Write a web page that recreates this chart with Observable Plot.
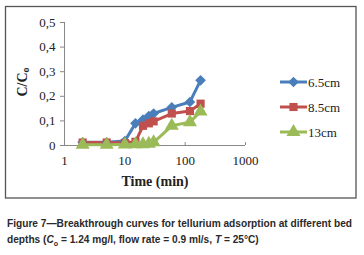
<!DOCTYPE html>
<html><head><meta charset="utf-8">
<script src="https://cdn.jsdelivr.net/npm/d3@7"></script>
<script src="https://cdn.jsdelivr.net/npm/@observablehq/plot@0.6"></script>
<style>
html,body{margin:0;padding:0;background:#fff;}
#cap{position:absolute;left:7px;top:216px;font-family:"Liberation Sans Narrow","Liberation Sans",Arial,sans-serif;font-weight:bold;font-size:11.5px;line-height:15.5px;color:#2a2a2a;white-space:nowrap;transform-origin:0 0;}
</style></head><body>
<div id="chart"></div>
<div id="cap"><div id="l1">Figure 7—Breakthrough curves for tellurium adsorption at different bed</div><div id="l2">depths (<i>C</i><sub style="font-size:8px">o</sub> = 1.24 mg/l, flow rate = 0.9 ml/s, <i>T</i> = 25°C)</div></div>
<script>
const times = [2, 5, 10, 15, 20, 25, 30, 60, 120, 180];
const s65 = [0.013, 0.013, 0.018, 0.09, 0.105, 0.12, 0.13, 0.155, 0.177, 0.265];
const s85 = [0.012, 0.012, 0.01, 0.015, 0.08, 0.09, 0.098, 0.13, 0.14, 0.17];
const s13 = [0.003, 0.003, 0.004, 0.005, 0.005, 0.007, 0.013, 0.08, 0.095, 0.138];
const seriesNames = ["6.5cm", "8.5cm", "13cm"];
const seriesColors = ["#4A7EBB", "#C0504D", "#9BBB59"];
const seriesSymbols = ["diamond2", "square", "triangle"];
const seriesR = [4.8, 4.6, 5.2];
const xTicks = [1, 10, 100, 1000];
const yTicks = [0, 0.1, 0.2, 0.3, 0.4, 0.5];

const all = [s65, s85, s13];
const data = [];
all.forEach((s, i) => s.forEach((v, j) => data.push({t: times[j], v, name: seriesNames[i]})));

const serif = "'Liberation Serif', 'DejaVu Serif', serif";
const marks = [
  Plot.ruleX([1], {y1: 0, y2: 0.5, stroke: "#888", strokeWidth: 1}),
  Plot.ruleY([0], {x1: 1, x2: 1000, stroke: "#888", strokeWidth: 1}),
  Plot.axisY({ticks: yTicks, tickSize: 4, tickPadding: 5, stroke: "#888", fontSize: 13, fontFamily: serif, fill: "#222",
    tickFormat: d => d === 0 ? "0" : d.toFixed(1).replace(".", ","), label: null}),
  Plot.axisX({ticks: xTicks, tickSize: 0, tickPadding: 10, fontSize: 13, fontFamily: serif, fill: "#222", tickFormat: d => String(d), label: null}),
  Plot.ruleX(xTicks, {y1: 0, y2: 0.012, stroke: "#888"}),
];
seriesNames.forEach((n, i) => {
  const d = data.filter(e => e.name === n);
  marks.push(Plot.line(d, {x: "t", y: "v", stroke: seriesColors[i], strokeWidth: 3}));
});
seriesNames.forEach((n, i) => {
  const d = data.filter(e => e.name === n);
  marks.push(Plot.dot(d, {x: "t", y: "v", fill: seriesColors[i], symbol: seriesSymbols[i], r: seriesR[i], stroke: "none"}));
});

const plot = Plot.plot({
  width: 364, height: 205,
  marginLeft: 64, marginRight: 119, marginTop: 22, marginBottom: 60,
  x: {type: "log", domain: [1, 1000]},
  y: {domain: [0, 0.5]},
  style: {background: "#fff"},
  marks
});
document.getElementById("chart").appendChild(plot);

const svg = d3.select(plot);
svg.insert("rect", ":first-child").attr("x", 5.5).attr("y", 6.5).attr("width", 350.5).attr("height", 191.5)
  .attr("fill", "none").attr("stroke", "#555").attr("stroke-width", 1.3);
svg.append("text").attr("x", 155).attr("y", 186).attr("text-anchor", "middle")
  .attr("font-family", serif).attr("font-weight", "bold").attr("font-size", 14).attr("fill", "#222").text("Time (min)");
const yl = svg.append("text").attr("transform", "translate(27,82) rotate(-90)").attr("text-anchor", "middle")
  .attr("font-family", serif).attr("font-weight", "bold").attr("font-size", 14).attr("fill", "#222");
yl.append("tspan").text("C/C");
yl.append("tspan").attr("font-size", 10).attr("dy", 2).text("o");

const sym = {diamond2: d3.symbolDiamond2, square: d3.symbolSquare, triangle: d3.symbolTriangle};
seriesNames.forEach((n, i) => {
  const y = 82 + i * 25;
  const g = svg.append("g");
  g.append("line").attr("x1", 280).attr("x2", 307).attr("y1", y).attr("y2", y).attr("stroke", seriesColors[i]).attr("stroke-width", 3);
  const r = seriesR[i];
  g.append("path").attr("transform", `translate(293.5,${y})`).attr("fill", seriesColors[i])
    .attr("d", d3.symbol(sym[seriesSymbols[i]], Math.PI * r * r)());
  g.append("text").attr("x", 308).attr("y", y).attr("dy", "0.35em").attr("text-anchor", "start")
    .attr("font-family", serif).attr("font-size", 13).attr("fill", "#222").text(n);
});

// fit caption line width
const l1 = document.getElementById("l1");
const w = l1.getBoundingClientRect().width;
const cap = document.getElementById("cap");
cap.style.transform = `scaleX(${345 / w})`;
</script>
</body></html>
